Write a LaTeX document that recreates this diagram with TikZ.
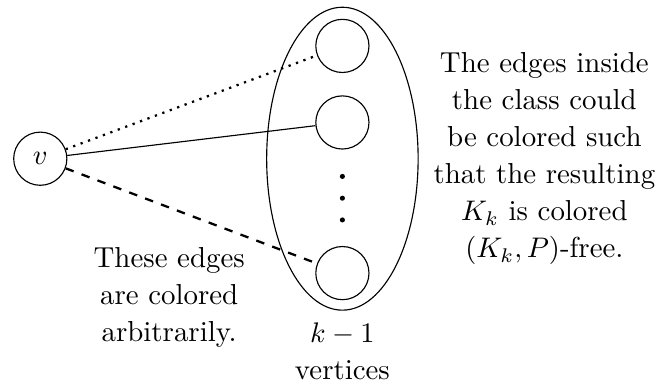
\documentclass[tikz,border=0pt]{standalone}
\usepackage{tikz}
\usetikzlibrary{shapes.geometric, positioning}

\begin{document}
\begin{tikzpicture}[
        vert/.style={draw, circle, minimum size=6.6mm, inner sep=0pt},
        dotv/.style={circle, fill, inner sep=0pt, minimum size=1.8pt},
        txt/.style={align=center, font=\fontsize{10.2}{13.1}\selectfont},
    ]
    \useasboundingbox (-0.50,-2.74) rectangle (7.68,1.97);

    \node[vert] (v) at (0,0) {$v$};
    \node[draw, ellipse, minimum width=1.88cm, minimum height=3.76cm] (cls) at (3.75,0) {};

    \node[vert] (c1) at (3.75,1.40) {};
    \node[vert] (c2) at (3.75,0.45) {};
    \node[vert] (c3) at (3.75,-1.42) {};
    \node[dotv] (d1) at (3.75,-0.22) {};
    \node[dotv] (d2) at (3.75,-0.49) {};
    \node[dotv] (d3) at (3.75,-0.76) {};

    \draw[thick, dotted] (v) -- (c1);
    \draw (v) -- (c2);
    \draw[thick, dashed] (v) -- (c3);

    \node[txt] (arb) at (1.60,-1.72) {These edges\\are colored\\arbitrarily.};
    \node[txt, below=0.02cm of cls] (num) {$k-1$\\vertices};
    \node[txt, right=0.06cm of cls] (inside) {The edges inside\\the class could\\be colored such\\that the resulting\\$K_k$ is colored\\$(K_k,P)$-free.};
\end{tikzpicture}
\end{document}
